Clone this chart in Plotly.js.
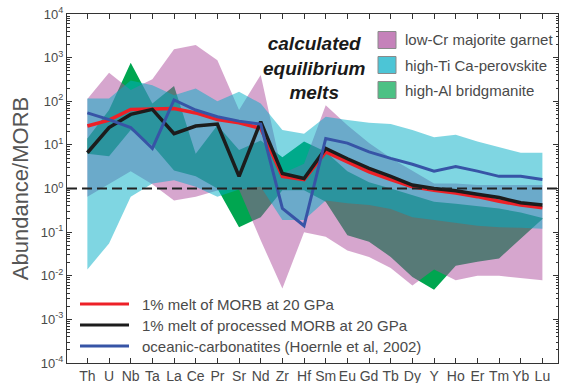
<!DOCTYPE html>
<html>
<head>
<meta charset="utf-8">
<script src="https://cdn.plot.ly/plotly-3.0.1.min.js"></script>
<style>html,body{margin:0;padding:0;background:#fff}</style>
</head>
<body>
<div id="chart" style="width:563px;height:383px"></div>
<script>
// Trace elements along the x axis
const elements = ["Th","U","Nb","Ta","La","Ce","Pr","Sr","Nd","Zr","Hf","Sm","Eu","Gd","Tb","Dy","Y","Ho","Er","Tm","Yb","Lu"];

// Calculated equilibrium melt ranges (abundance / MORB)
const garnetHigh = [112,450,180,320,1550,1950,870,63,400,2.2,3.7,81,28,11,5,2.5,1.3,1.3,1.2,1.2,1.2,1.2];
const garnetLow  = [0.65,1.3,2.5,1.25,0.53,0.65,0.9,0.95,0.065,0.0051,0.1,0.078,0.038,0.027,0.015,0.006,0.014,0.0079,0.01,0.01,0.0089,0.0079];

const perovskiteHigh = [115,115,300,234,138,195,100,166,89,22,18,44,37,32,30,22,15,17,12,8.9,6.6,6.6];
const perovskiteLow  = [0.014,0.055,0.65,1.3,1.55,1.1,0.65,0.95,1.1,0.19,0.19,0.53,0.46,0.42,0.34,0.22,0.19,0.16,0.14,0.13,0.126,0.12];

const bridgmaniteHigh = [14,63,760,89,224,6.3,28,7.6,12.6,5.2,12,7,2.5,1.4,1.0,0.71,0.5,0.45,0.4,0.35,0.28,0.21];
const bridgmaniteLow  = [6.3,5.5,22,9.8,2.6,1.9,1.0,0.13,0.22,0.91,0.91,0.5,0.085,0.06,0.027,0.0093,0.0048,0.017,0.021,0.025,0.072,0.2];

// Melt compositions
const meltMORB      = [27,37,65,68,68,54,38,32,24,1.9,1.6,6.9,4.1,2.4,1.6,1.1,0.91,0.79,0.65,0.51,0.42,0.36];
const meltProcessed = [6.6,25,50,65,18,27,30,1.9,34,2.2,1.7,8.3,4.8,2.9,1.9,1.2,1.0,0.89,0.74,0.62,0.47,0.42];
const carbonatites  = [54,38,25,8.3,107,63,44,35,30,0.35,0.14,14,11,6.9,4.9,3.6,2.5,3.2,2.5,1.9,1.9,1.6];

// Decade ticks of the log axis
const decadeVals = [1e-4,1e-3,1e-2,1e-1,1,1e1,1e2,1e3,1e4];
const decadeText = ["10<sup>-4</sup>","10<sup>-3</sup>","10<sup>-2</sup>","10<sup>-1</sup>","10<sup>0</sup>",
                    "10<sup>1</sup>","10<sup>2</sup>","10<sup>3</sup>","10<sup>4</sup>"];

const rangeNames = ["low-Cr majorite garnet","high-Ti Ca-perovskite","high-Al bridgmanite"];
const lineNames = ["1% melt of MORB at 20 GPa","1% melt of processed MORB at 20 GPa","oceanic-carbonatites (Hoernle et al, 2002)"];

const W = 563, H = 383;
const M = {l: 67, r: 5, t: 14, b: 20};
const px = x => (x - M.l) / (W - M.l - M.r);
const py = y => (H - M.b - y) / (H - M.t - M.b);

// intermediate log ticks (2..9 within each decade)
const minorVals = [];
for (let e = -4; e < 4; e++) for (let k = 2; k <= 9; k++) minorVals.push(k * Math.pow(10, e));

function band(hi, lo, fill, name) {
  return {
    type: "scatter", mode: "lines", name: name,
    x: elements.concat(elements.slice().reverse()),
    y: hi.concat(lo.slice().reverse()),
    fill: "toself", fillcolor: fill,
    line: {width: 0, color: fill}, hoverinfo: "skip", showlegend: false
  };
}
function melt(vals, color, width, name) {
  return {
    type: "scatter", mode: "lines", name: name,
    x: elements, y: vals,
    line: {color: color, width: width}, showlegend: false
  };
}

const traces = [
  band(bridgmaniteHigh, bridgmaniteLow, "rgb(0,166,80)", rangeNames[2]),
  band(garnetHigh, garnetLow, "rgba(173,77,157,0.5)", rangeNames[0]),
  band(perovskiteHigh, perovskiteLow, "rgba(0,173,197,0.5)", rangeNames[1]),
  melt(meltMORB, "rgb(237,32,39)", 3.5, lineNames[0]),
  melt(meltProcessed, "rgb(28,28,28)", 3.5, lineNames[1]),
  melt(carbonatites, "rgb(55,84,166)", 3, lineNames[2])
];

const textCol = "#4a4a4a";
const fam = "Liberation Sans, Arial, sans-serif";
const shapes = [
  {type: "line", xref: "paper", yref: "y", x0: 0, x1: 1.004, y0: 1, y1: 1,
   line: {color: "#222", width: 2, dash: "10px,5px"}, layer: "above"}
];
const annotations = [
  {xref: "paper", yref: "paper", x: px(314), y: py(68), xanchor: "center", yanchor: "middle",
   text: "calculated<br>equilibrium<br>melts", showarrow: false, align: "center",
   font: {family: fam, size: 19, color: "#1a1a1a", weight: "bold", style: "italic"}}
];

// Swatch legend for the mineral ranges
const swatchCols = ["rgba(173,77,157,0.7)", "rgba(0,173,197,0.7)", "rgba(0,166,80,0.7)"];
const swatchY = [40, 65, 90];
for (let i = 0; i < 3; i++) {
  shapes.push({type: "rect", xref: "paper", yref: "paper",
    x0: px(378), x1: px(396), y0: py(swatchY[i] + 8.5), y1: py(swatchY[i] - 8.5),
    fillcolor: swatchCols[i], line: {color: "#8a8a8a", width: 1}, layer: "above"});
  annotations.push({xref: "paper", yref: "paper", x: px(403), y: py(swatchY[i]),
    xanchor: "left", yanchor: "middle", text: rangeNames[i], showarrow: false,
    font: {family: fam, size: 15, color: textCol}});
}

// Line legend for the melt compositions
const lineCols = ["rgb(237,32,39)", "rgb(28,28,28)", "rgb(55,84,166)"];
const lineY = [304, 325, 346];
for (let i = 0; i < 3; i++) {
  shapes.push({type: "line", xref: "paper", yref: "paper",
    x0: px(80), x1: px(129), y0: py(lineY[i]), y1: py(lineY[i]),
    line: {color: lineCols[i], width: 3}, layer: "above"});
  annotations.push({xref: "paper", yref: "paper", x: px(140), y: py(lineY[i]),
    xanchor: "left", yanchor: "middle", text: lineNames[i], showarrow: false,
    font: {family: fam, size: 15, color: textCol}});
}

const layout = {
  width: W, height: H, margin: M,
  paper_bgcolor: "#fff", plot_bgcolor: "#fff",
  showlegend: false,
  xaxis: {
    type: "category", categoryorder: "array", categoryarray: elements,
    range: [-0.94, 21.72], showgrid: false, zeroline: false,
    showline: true, linecolor: "#333", linewidth: 1, mirror: "ticks",
    ticks: "inside", ticklen: 5, tickcolor: "#333",
    tickfont: {family: fam, size: 14, color: textCol}
  },
  yaxis: {
    type: "log", range: [-4, 4], tickmode: "array", tickvals: decadeVals, ticktext: decadeText,
    showgrid: false, zeroline: false,
    showline: true, linecolor: "#333", linewidth: 1, mirror: "ticks",
    ticks: "inside", ticklen: 5, tickcolor: "#333",
    tickfont: {family: fam, size: 13, color: textCol},
    minor: {ticks: "inside", ticklen: 2.5, tickmode: "array", tickvals: minorVals,
            tickcolor: "#333", showgrid: false},
    title: {text: "Abundance/MORB", standoff: 6,
            font: {family: fam, size: 22, color: "#555"}}
  },
  shapes: shapes,
  annotations: annotations
};

Plotly.newPlot("chart", traces, layout, {staticPlot: true, displayModeBar: false});
</script>
</body>
</html>
